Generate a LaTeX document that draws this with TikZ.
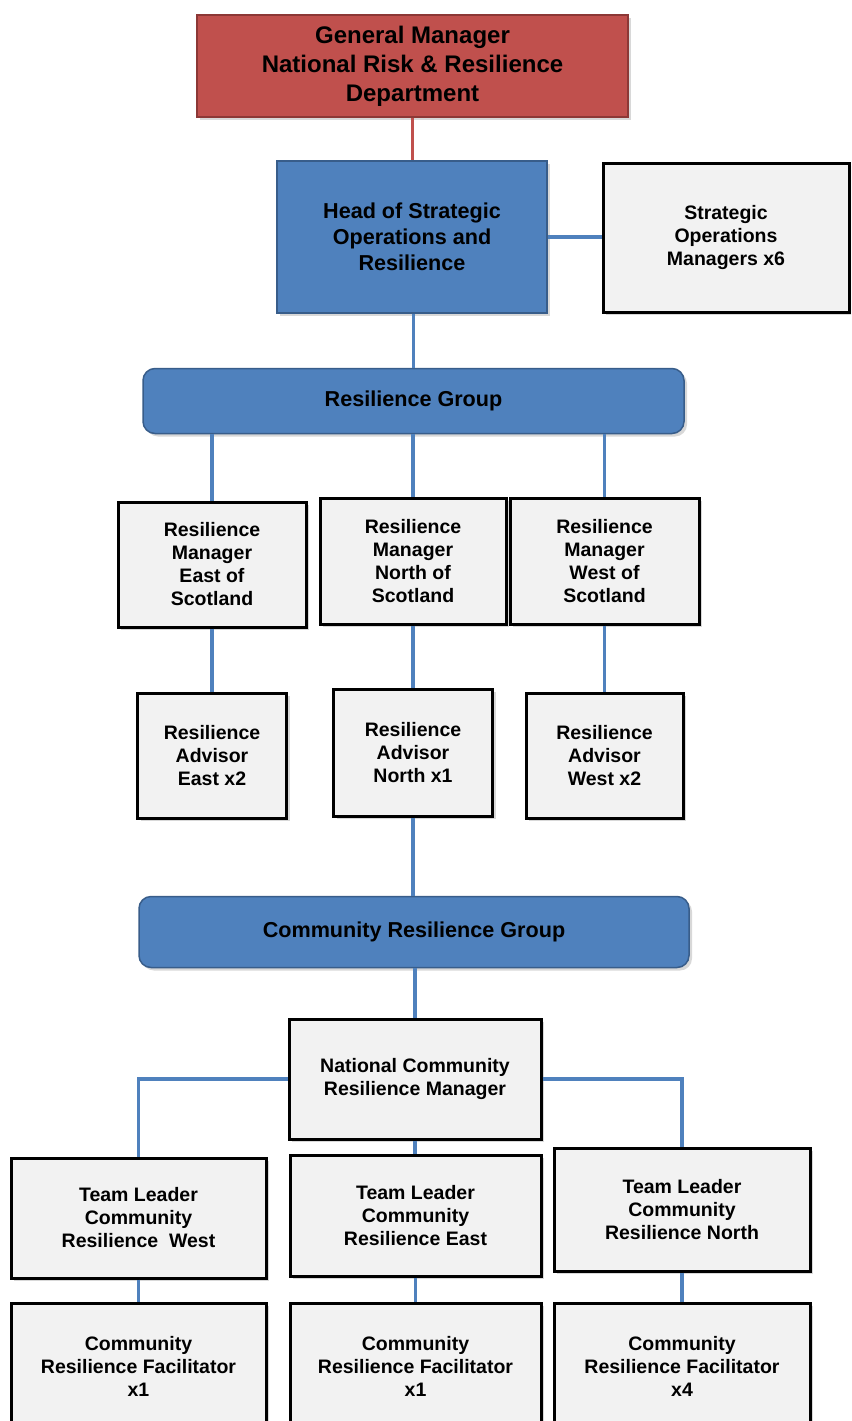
\documentclass[tikz,border=0pt]{standalone}
\usepackage{fontspec}
\setmainfont{Liberation Sans}
\usetikzlibrary{shadows}
\definecolor{gmred}{HTML}{C0504D}
\definecolor{gmredline}{HTML}{8C3836}
\definecolor{hblue}{HTML}{4F81BD}
\definecolor{hblueline}{HTML}{385D8A}
\definecolor{boxgray}{HTML}{F2F2F2}
\tikzset{
  shad/.style={drop shadow={opacity=0.3,shadow xshift=3pt,shadow yshift=-3pt}},
  gmbox/.style={draw=gmredline,line width=1.5pt,fill=gmred,inner sep=0pt,align=center,shad,
     font=\fontsize{24}{29}\selectfont\bfseries},
  bluebox/.style={draw=hblueline,line width=1.5pt,fill=hblue,inner sep=0pt,align=center,shad,
     font=\fontsize{21.6}{26}\selectfont\bfseries},
  groupbox/.style={bluebox,rounded corners=12pt},
  graybox/.style={draw=black,line width=3pt,fill=boxgray,inner sep=0pt,align=center,shad,
     font=\fontsize{19.5}{23}\selectfont\bfseries},
  conn/.style={draw=hblue,line width=3.2pt},
  redconn/.style={draw=gmred,line width=3.2pt}
}
\begin{document}
\begin{tikzpicture}[x=1pt,y=-1pt]
\useasboundingbox (0,0) rectangle (851,1421);
\clip (0,0) rectangle (851,1421);
\fill[white] (0,0) rectangle (851,1421);
% connectors first (behind boxes)
\coordinate (gmS) at (413,116);
\coordinate (headN) at (413,160);
\coordinate (headS) at (413,312);
\coordinate (rgN) at (413,368);
\coordinate (headE) at (547,239);
\coordinate (somW) at (603,239);
% top
\node[gmbox,minimum width=431,minimum height=102] (gm) at (412.5,66)
  {General Manager\\National Risk \& Resilience\\Department};
\node[bluebox,minimum width=270,minimum height=152] (head) at (412,237)
  {Head of Strategic\\Operations and\\Resilience};
\node[graybox,minimum width=246,minimum height=149] (som) at (726,237.5)
  {Strategic\\Operations\\Managers x6};
\node[groupbox,minimum width=541,minimum height=65] (rg) at (413.5,401)
  {Resilience Group};
% resilience managers
\node[graybox,minimum width=188,minimum height=125] (rme) at (212,564.5)
  {Resilience\\Manager\\East of\\Scotland};
\node[graybox,minimum width=186,minimum height=126] (rmn) at (413,561)
  {Resilience\\Manager\\North of\\Scotland};
\node[graybox,minimum width=189,minimum height=126] (rmw) at (604.5,561)
  {Resilience\\Manager\\West of\\Scotland};
% advisors
\node[graybox,minimum width=149,minimum height=125] (rae) at (212,755.5)
  {Resilience\\Advisor\\East x2};
\node[graybox,minimum width=159,minimum height=127] (ran) at (413,752.5)
  {Resilience\\Advisor\\North x1};
\node[graybox,minimum width=157,minimum height=125] (raw) at (604.5,755.5)
  {Resilience\\Advisor\\West x2};
% community
\node[groupbox,minimum width=550,minimum height=71] (crg) at (414,932)
  {Community Resilience Group};
\node[graybox,minimum width=252,minimum height=120] (ncrm) at (415,1079)
  {National Community\\Resilience Manager};
\node[graybox,minimum width=255,minimum height=120] (tlw) at (138.5,1218)
  {Team Leader\\Community\\Resilience\ \ West};
\node[graybox,minimum width=251,minimum height=121] (tle) at (415.5,1215.5)
  {Team Leader\\Community\\Resilience East};
\node[graybox,minimum width=256,minimum height=123] (tln) at (682,1209.5)
  {Team Leader\\Community\\Resilience North};
\node[graybox,minimum width=255,minimum height=127] (cfw) at (138.5,1366.5)
  {Community\\Resilience Facilitator\\x1};
\node[graybox,minimum width=251,minimum height=127] (cfe) at (415.5,1366.5)
  {Community\\Resilience Facilitator\\x1};
\node[graybox,minimum width=256,minimum height=127] (cfn) at (682,1366.5)
  {Community\\Resilience Facilitator\\x4};
% connectors
\draw[redconn] (gm.south) -- (gm.south |- head.north);
\draw[conn] (head.east) -- (som.west |- head.east);
\draw[conn] (head.south -| rg.north) -- (rg.north);
\draw[conn] (rme.north) -- (rme.north |- rg.south);
\draw[conn] (rmn.north) -- (rmn.north |- rg.south);
\draw[conn] (rmw.north) -- (rmw.north |- rg.south);
\draw[conn] (rme.south) -- (rae.north);
\draw[conn] (rmn.south) -- (ran.north);
\draw[conn] (rmw.south) -- (raw.north);
\draw[conn] (ran.south) -- (ran.south |- crg.north);
\draw[conn] (crg.south -| ncrm.north) -- (ncrm.north);
\draw[conn] (ncrm.west) -| (tlw.north);
\draw[conn] (ncrm.east) -| (tln.north);
\draw[conn] (ncrm.south) -- (ncrm.south |- tle.north);
\draw[conn] (tlw.south) -- (cfw.north);
\draw[conn] (tle.south) -- (cfe.north);
\draw[conn] (tln.south) -- (cfn.north);
\end{tikzpicture}
\end{document}
